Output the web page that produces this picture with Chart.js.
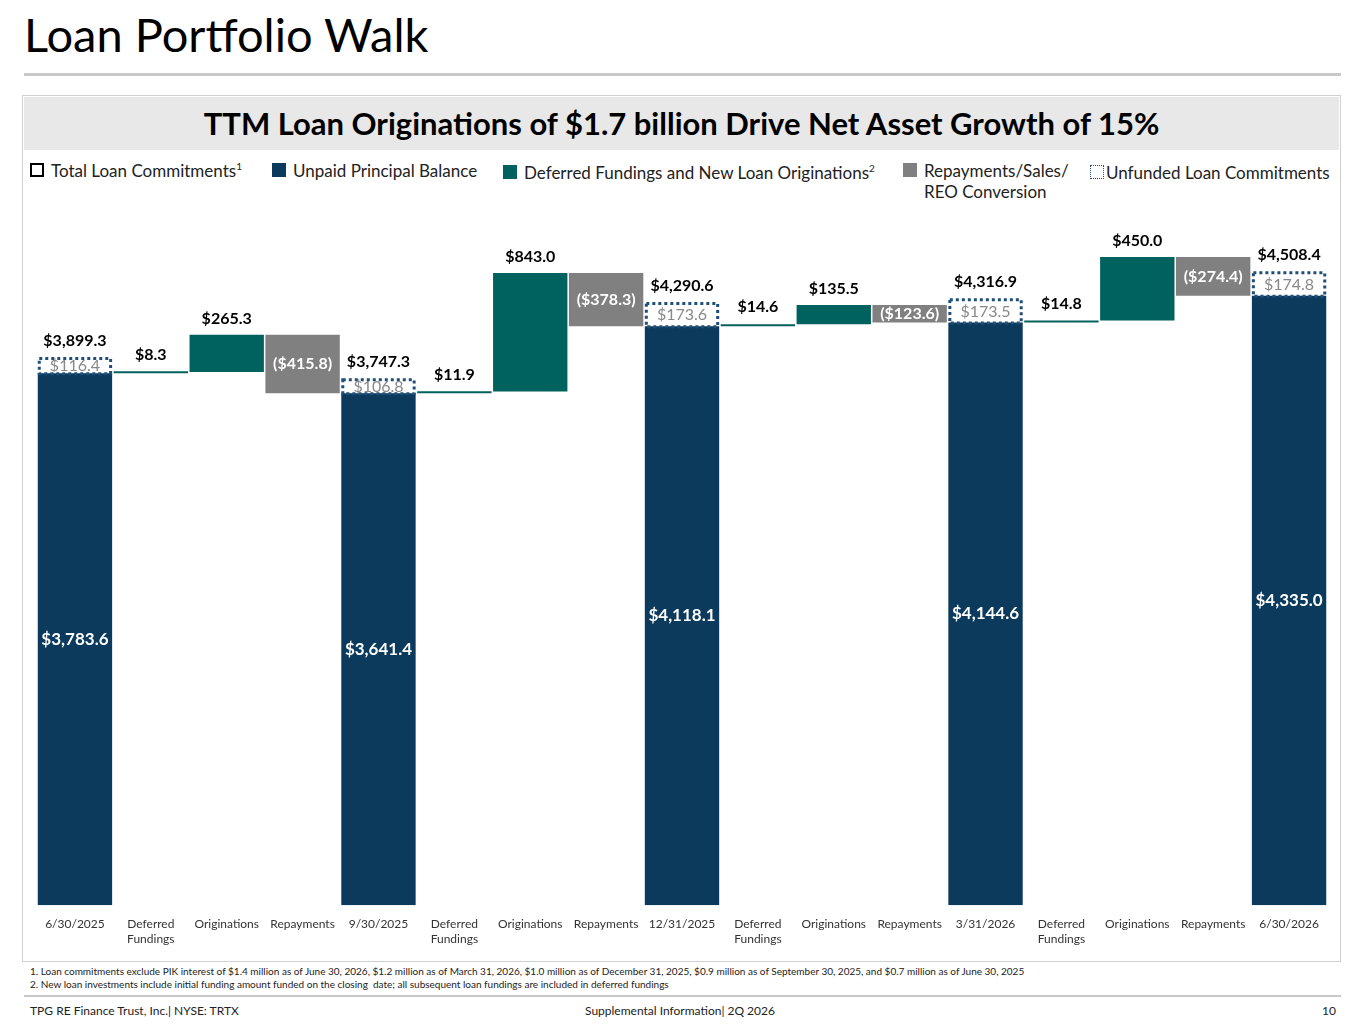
<!DOCTYPE html>
<html><head><meta charset="utf-8">
<script src="https://cdn.jsdelivr.net/npm/chart.js@4"></script>
<style>
body{margin:0;width:1365px;height:1024px;background:#fff;font-family:Lato,"Liberation Sans",sans-serif;position:relative;overflow:hidden}
.abs{position:absolute}
#title{left:24px;top:6px;font-size:47px;color:#000}
#rule1{left:24px;top:73px;width:1317px;height:3px;background:#c8c8c8}
#panel{left:22px;top:95px;width:1317px;height:865px;border:1px solid #d0d0d0}
#band{left:24px;top:97px;width:1315px;height:53px;background:#e8e8e8;text-align:center;font-weight:bold;font-size:31px;line-height:53px}
.leg{top:160px;font-size:17px;color:#222;display:flex;align-items:flex-start}
.sw{width:14px;height:14px;margin:3px 7px 0 0;flex:none;box-sizing:border-box}
#foot1{left:30px;top:965px;font-size:10px;color:#222;line-height:13px}
#rule2{left:24px;top:995px;width:1317px;height:2px;background:#c8c8c8}
.ft{top:1003px;font-size:12px;color:#222}
</style></head><body>
<div id="title" class="abs">Loan Portfolio Walk</div>
<div id="rule1" class="abs"></div>
<div id="panel" class="abs"></div>
<div id="band" class="abs">TTM Loan Originations of $1.7 billion Drive Net Asset Growth of 15%</div>
<div class="abs leg" style="left:30px"><div class="sw" style="border:2px solid #000"></div>Total Loan Commitments<sup style="font-size:10px">1</sup></div>
<div class="abs leg" style="left:272px"><div class="sw" style="background:#0b3a5c"></div>Unpaid Principal Balance</div>
<div class="abs leg" style="left:503px;top:162px"><div class="sw" style="background:#00625e"></div>Deferred Fundings and New Loan Originations<sup style="font-size:10px">2</sup></div>
<div class="abs leg" style="left:903px"><div class="sw" style="background:#808080"></div><div>Repayments/Sales/<br>REO Conversion</div></div>
<div class="abs leg" style="left:1090px;top:162px"><div class="sw" style="border:1.5px dotted #1f4e79;margin-right:2px"></div>Unfunded Loan Commitments</div>
<div class="abs" style="left:22px;top:205px;width:1319px;height:745px"><canvas id="c"></canvas></div>
<div id="foot1" class="abs">1. Loan commitments exclude PIK interest of $1.4 million as of June 30, 2026, $1.2 million as of March 31, 2026, $1.0 million as of December 31, 2025, $0.9 million as of September 30, 2025, and $0.7 million as of June 30, 2025<br>2. New loan investments include initial funding amount funded on the closing&nbsp; date; all subsequent loan fundings are included in deferred fundings</div>
<div id="rule2" class="abs"></div>
<div class="abs ft" style="left:30px">TPG RE Finance Trust, Inc.| NYSE: TRTX</div>
<div class="abs ft" style="left:585px">Supplemental Information| 2Q 2026</div>
<div class="abs ft" style="left:1322px">10</div>
<script>
const categories=['6/30/2025',['Deferred','Fundings'],'Originations','Repayments','9/30/2025',['Deferred','Fundings'],'Originations','Repayments','12/31/2025',['Deferred','Fundings'],'Originations','Repayments','3/31/2026',['Deferred','Fundings'],'Originations','Repayments','6/30/2026'];
const upb=[3783.6,3641.4,4118.1,4144.6,4335.0];
const totals=[3899.3,3747.3,4290.6,4316.9,4508.4];
const unfunded=[116.4,106.8,173.6,173.5,174.8];
const deferred=[8.3,11.9,14.6,14.8];
const originations=[265.3,843.0,135.5,450.0];
const repayments=[415.8,378.3,123.6,274.4];
const N=categories.length;
const upbD=Array(N).fill(null),unfD=Array(N).fill(null),defD=Array(N).fill(null),orgD=Array(N).fill(null),repD=Array(N).fill(null);
for(let q=0;q<5;q++){
  const i=q*4;upbD[i]=[0,upb[q]];unfD[i]=[upb[q],totals[q]];
  if(q<4){
    let b=upb[q];
    defD[i+1]=[b,b+deferred[q]];b+=deferred[q];
    orgD[i+2]=[b,b+originations[q]];b+=originations[q];
    repD[i+3]=[b,b-repayments[q]];
  }
}
const fmt=v=>'$'+v.toLocaleString('en-US',{minimumFractionDigits:1,maximumFractionDigits:1});
const labelPlugin={id:'lbl',afterDatasetsDraw(ch){
  const c=ch.ctx,x=ch.scales.x,y=ch.scales.y;
  c.save();c.textAlign='center';
  const m=ch.getDatasetMeta(1);
  m.data.forEach((el,i)=>{if(unfD[i]==null)return;
    const w=el.width;c.setLineDash([3,3]);c.lineWidth=3;c.strokeStyle='#1f4e79';
    c.strokeRect(el.x-w/2+1.5,el.y+1.5,w-3,el.base-el.y-1);c.setLineDash([]);
  });
  for(let q=0;q<5;q++){
    const i=q*4,cx=x.getPixelForValue(i);
    c.font='bold 16px Lato';c.fillStyle='#000';c.textBaseline='bottom';
    c.fillText(fmt(totals[q]),cx,y.getPixelForValue(totals[q])-8);
    c.font='16px Lato';c.fillStyle='#888';c.textBaseline='middle';
    c.fillText(fmt(unfunded[q]),cx,(y.getPixelForValue(totals[q])+y.getPixelForValue(upb[q]))/2+1);
    c.font='bold 17px Lato';c.fillStyle='#fff';
    c.fillText(fmt(upb[q]),cx,y.getPixelForValue(upb[q]/2));
    if(q<4){
      c.font='bold 16px Lato';c.fillStyle='#000';c.textBaseline='bottom';
      c.fillText(fmt(deferred[q]),x.getPixelForValue(i+1),y.getPixelForValue(defD[i+1][1])-9);
      c.fillText(fmt(originations[q]),x.getPixelForValue(i+2),y.getPixelForValue(orgD[i+2][1])-8);
      c.fillStyle='#fff';c.textBaseline='middle';
      const r=repD[i+3];
      c.fillText('('+fmt(repayments[q])+')',x.getPixelForValue(i+3),(y.getPixelForValue(r[0])+y.getPixelForValue(r[1]))/2);
    }
  }
  c.restore();
}};
const ds=(data,color,extra)=>Object.assign({data,backgroundColor:color,grouped:false,barPercentage:1,categoryPercentage:0.98,borderSkipped:false},extra||{});
new Chart(document.getElementById('c'),{type:'bar',
 data:{labels:categories,datasets:[ds(upbD,'#0b3a5c'),ds(unfD,'#ffffff'),ds(defD,'#00625e',{minBarLength:2}),ds(orgD,'#00625e'),ds(repD,'#808080')]},
 options:{responsive:true,maintainAspectRatio:false,animation:false,
  layout:{padding:{left:15,right:14,top:0,bottom:0}},
  plugins:{legend:{display:false},tooltip:{enabled:false}},
  scales:{x:{grid:{display:false},border:{display:false},ticks:{color:'#333',font:{family:'Lato',size:12},maxRotation:0,autoSkip:false,padding:4}},
   y:{display:false,min:0,max:4980}}},
 plugins:[labelPlugin]});
</script>
</body></html>
